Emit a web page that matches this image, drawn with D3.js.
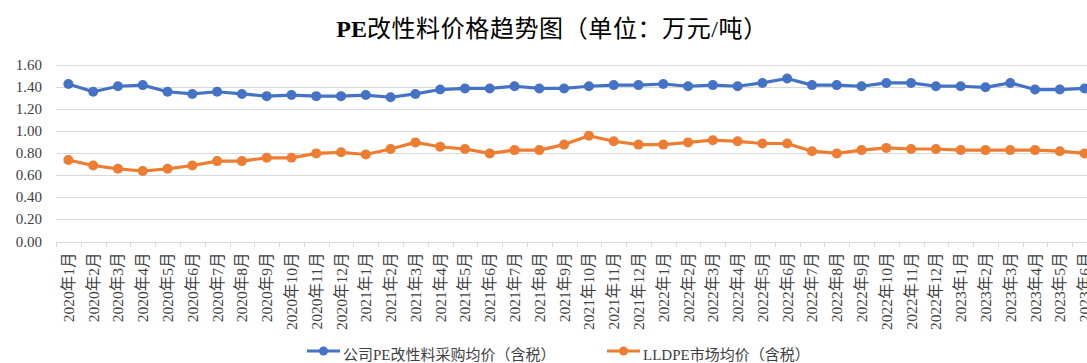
<!DOCTYPE html>
<html>
<head>
<meta charset="utf-8">
<script src="https://cdn.jsdelivr.net/npm/d3@7/dist/d3.min.js"></script>
<style>
  body { margin: 0; background: #fff; }
  svg { display: block; }
</style>
</head>
<body>
<svg id="chart" width="1087" height="363"></svg>
<script>
// Monthly categories, Jan 2020 – Jun 2023
const months = [
  "2020年1月","2020年2月","2020年3月","2020年4月","2020年5月","2020年6月",
  "2020年7月","2020年8月","2020年9月","2020年10月","2020年11月","2020年12月",
  "2021年1月","2021年2月","2021年3月","2021年4月","2021年5月","2021年6月",
  "2021年7月","2021年8月","2021年9月","2021年10月","2021年11月","2021年12月",
  "2022年1月","2022年2月","2022年3月","2022年4月","2022年5月","2022年6月",
  "2022年7月","2022年8月","2022年9月","2022年10月","2022年11月","2022年12月",
  "2023年1月","2023年2月","2023年3月","2023年4月","2023年5月","2023年6月"
];

// 公司PE改性料采购均价（含税），万元/吨
const purchasePrice = [
  1.43, 1.36, 1.41, 1.42, 1.36, 1.34, 1.36, 1.34, 1.32, 1.33, 1.32, 1.32,
  1.33, 1.31, 1.34, 1.38, 1.39, 1.39, 1.41, 1.39, 1.39, 1.41, 1.42, 1.42,
  1.43, 1.41, 1.42, 1.41, 1.44, 1.48, 1.42, 1.42, 1.41, 1.44, 1.44, 1.41,
  1.41, 1.40, 1.44, 1.38, 1.38, 1.39
];

// LLDPE市场均价（含税），万元/吨
const marketPrice = [
  0.74, 0.69, 0.66, 0.64, 0.66, 0.69, 0.73, 0.73, 0.76, 0.76, 0.80, 0.81,
  0.79, 0.84, 0.90, 0.86, 0.84, 0.80, 0.83, 0.83, 0.88, 0.96, 0.91, 0.88,
  0.88, 0.90, 0.92, 0.91, 0.89, 0.89, 0.82, 0.80, 0.83, 0.85, 0.84, 0.84,
  0.83, 0.83, 0.83, 0.83, 0.82, 0.80
];

const yTicks = [0, 0.2, 0.4, 0.6, 0.8, 1.0, 1.2, 1.4, 1.6];
const seriesNames = ["公司PE改性料采购均价（含税）", "LLDPE市场均价（含税）"];
const seriesColors = ["#4472C4", "#ED7D31"];
const titleLatin = "PE";
const titleRest = "改性料价格趋势图（单位：万元/吨）";

(function draw() {
  const serif = "'Liberation Serif', 'Times New Roman', 'Noto Sans CJK SC', serif";
  const svg = d3.select("#chart");

  // Plot area (runs past the right edge, last month partly clipped)
  const plotLeft = 56, plotRight = 1097, plotTop = 65.3, plotBottom = 241.5;

  const x = d3.scaleBand().domain(months).range([plotLeft, plotRight]).padding(0);
  const y = d3.scaleLinear().domain([0, 1.6]).range([plotBottom, plotTop]);

  // Title
  const title = svg.append("text")
    .attr("x", 552).attr("y", 37)
    .attr("text-anchor", "middle")
    .style("font-family", serif)
    .style("font-size", "24px")
    .attr("fill", "#000");
  title.append("tspan").attr("font-weight", "bold").text(titleLatin);
  title.append("tspan").attr("font-weight", "normal")
    .style("letter-spacing", "0.6px").text(titleRest);

  // Horizontal gridlines
  svg.append("g").selectAll("line")
    .data(yTicks.filter(d => d > 0))
    .join("line")
    .attr("x1", plotLeft).attr("x2", plotRight)
    .attr("y1", d => Math.round(y(d)) + 0.5).attr("y2", d => Math.round(y(d)) + 0.5)
    .attr("stroke", "#d9d9d9").attr("stroke-width", 1);

  // Y-axis labels
  svg.append("g").selectAll("text")
    .data(yTicks)
    .join("text")
    .attr("x", 42).attr("y", d => y(d))
    .attr("text-anchor", "end")
    .attr("dominant-baseline", "central")
    .style("font-family", serif)
    .style("font-size", "15px")
    .attr("fill", "#404040")
    .text(d => d3.format(".2f")(d));

  // X axis line and boundary ticks
  const xAxis = svg.append("g");
  xAxis.append("line")
    .attr("x1", plotLeft).attr("x2", plotRight)
    .attr("y1", Math.round(plotBottom) + 0.5).attr("y2", Math.round(plotBottom) + 0.5)
    .attr("stroke", "#d9d9d9").attr("stroke-width", 1);
  xAxis.selectAll("line.tick")
    .data(d3.range(months.length + 1))
    .join("line")
    .attr("class", "tick")
    .attr("x1", i => Math.round(plotLeft + i * x.step()) + 0.5)
    .attr("x2", i => Math.round(plotLeft + i * x.step()) + 0.5)
    .attr("y1", Math.round(plotBottom)).attr("y2", Math.round(plotBottom) + 5)
    .attr("stroke", "#d9d9d9").attr("stroke-width", 1);

  // Rotated month labels
  xAxis.selectAll("text")
    .data(months)
    .join("text")
    .attr("transform", d => `translate(${x(d) + x.bandwidth() / 2},${plotBottom + 11}) rotate(-90)`)
    .attr("text-anchor", "end")
    .attr("dominant-baseline", "central")
    .style("font-family", serif)
    .style("font-size", "15.5px")
    .attr("fill", "#404040")
    .text(d => d);

  // Series lines with markers
  const series = [purchasePrice, marketPrice];
  const line = d3.line()
    .x((d, i) => x(months[i]) + x.bandwidth() / 2)
    .y(d => y(d));

  series.forEach((values, k) => {
    const g = svg.append("g");
    g.append("path")
      .datum(values)
      .attr("d", line)
      .attr("fill", "none")
      .attr("stroke", seriesColors[k])
      .attr("stroke-width", 3.2)
      .attr("stroke-linejoin", "round")
      .attr("stroke-linecap", "round");
    g.selectAll("circle")
      .data(values)
      .join("circle")
      .attr("cx", (d, i) => x(months[i]) + x.bandwidth() / 2)
      .attr("cy", d => y(d))
      .attr("r", 5)
      .attr("fill", seriesColors[k]);
  });

  // Legend
  const legendX = [307, 607];
  const legendY = 351;
  seriesNames.forEach((name, k) => {
    const g = svg.append("g").attr("transform", `translate(${legendX[k]},${legendY})`);
    g.append("line")
      .attr("x1", 0).attr("x2", 33).attr("y1", 0).attr("y2", 0)
      .attr("stroke", seriesColors[k]).attr("stroke-width", 3.2);
    g.append("circle").attr("cx", 16.5).attr("cy", 0).attr("r", 4.5).attr("fill", seriesColors[k]);
    g.append("text")
      .attr("x", 36).attr("y", 9)
      .style("font-family", serif)
      .style("font-size", "15px")
      .attr("fill", "#404040")
      .text(name);
  });
})();
</script>
</body>
</html>
